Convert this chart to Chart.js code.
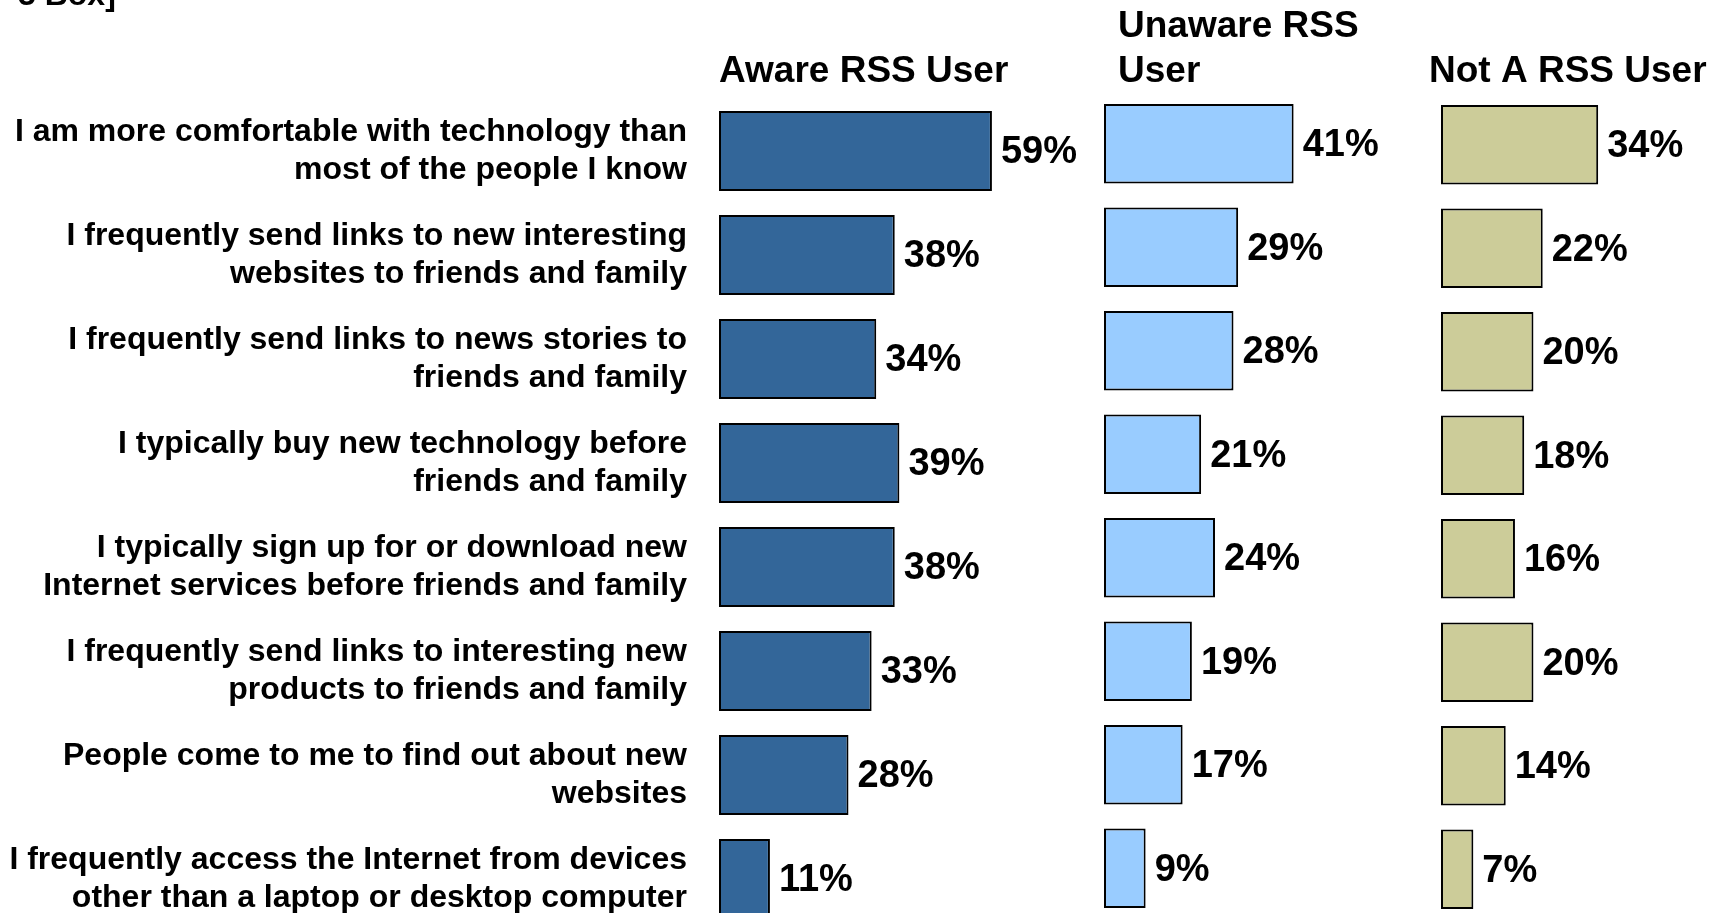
<!DOCTYPE html>
<html>
<head>
<meta charset="utf-8">
<script src="https://cdn.jsdelivr.net/npm/chart.js@4/dist/chart.umd.min.js"></script>
<style>
  html, body { margin:0; padding:0; background:#fff; width:1717px; height:913px; overflow:hidden; }
  .wrap { position:absolute; top:0; }
  canvas { display:block; }
</style>
</head>
<body>
<div class="wrap" id="w1" style="left:0px;width:1089px;height:931px;"><canvas id="c1"></canvas></div>
<div class="wrap" id="w2" style="left:1084px;width:390px;height:920px;"><canvas id="c2"></canvas></div>
<div class="wrap" id="w3" style="left:1421px;width:296px;height:921px;"><canvas id="c3"></canvas></div>
<script>
const categories = [
  ["I am more comfortable with technology than", "most of the people I know"],
  ["I frequently send links to new interesting", "websites to friends and family"],
  ["I frequently send links to news stories to", "friends and family"],
  ["I typically buy new technology before", "friends and family"],
  ["I typically sign up for or download new", "Internet services before friends and family"],
  ["I frequently send links to interesting new", "products to friends and family"],
  ["People come to me to find out about new", "websites"],
  ["I frequently access the Internet from devices", "other than a laptop or desktop computer"]
];
const awareValues   = [59, 38, 34, 39, 38, 33, 28, 11];
const unawareValues = [41, 29, 28, 21, 24, 19, 17, 9];
const notUserValues = [34, 22, 20, 18, 16, 20, 14, 7];
const seriesTitles = [["Aware RSS User"], ["Unaware RSS", "User"], ["Not A RSS User"]];
const topNote = "3 Box]";

const FONT = "'Liberation Sans', Arial, Helvetica, sans-serif";

const valueLabels = {
  id: 'valueLabels',
  afterDatasetsDraw(chart) {
    const ctx = chart.ctx;
    const meta = chart.getDatasetMeta(0);
    const data = chart.data.datasets[0].data;
    ctx.save();
    ctx.font = "bold 38px " + FONT;
    ctx.fillStyle = "#000";
    ctx.textAlign = "left";
    ctx.textBaseline = "middle";
    meta.data.forEach((bar, i) => {
      ctx.fillText(data[i] + "%", bar.x + 9, bar.y + 2);
    });
    ctx.restore();
  }
};

const panelTitle = {
  id: 'panelTitle',
  afterDraw(chart, args, opts) {
    const ctx = chart.ctx;
    ctx.save();
    ctx.font = "bold 37px " + FONT;
    ctx.fillStyle = "#000";
    ctx.textAlign = "left";
    ctx.textBaseline = "alphabetic";
    const lines = opts.lines || [];
    const lastBase = opts.baseline;
    lines.forEach((ln, i) => {
      const y = lastBase - (lines.length - 1 - i) * 45;
      ctx.fillText(ln, chart.chartArea.left + opts.dx, y);
    });
    if (opts.note) {
      ctx.font = "bold 32px " + FONT;
      ctx.fillText(opts.note, opts.noteX, opts.noteY);
    }
    ctx.restore();
  }
};

function makeChart(id, values, color, cfg) {
  return new Chart(document.getElementById(id), {
    type: 'bar',
    data: {
      labels: categories,
      datasets: [{
        data: values,
        backgroundColor: color,
        borderColor: '#000',
        borderWidth: 2,
        borderSkipped: false,
        categoryPercentage: 1.0,
        barPercentage: 0.77
      }]
    },
    options: {
      indexAxis: 'y',
      responsive: true,
      maintainAspectRatio: false,
      animation: false,
      layout: { padding: { top: cfg.top, left: cfg.padLeft, right: 0, bottom: 0 } },
      plugins: {
        legend: { display: false },
        tooltip: { enabled: false },
        title: { display: false },
        panelTitle: cfg.title
      },
      scales: {
        x: { display: false, min: 0, max: cfg.max },
        y: cfg.showLabels ? {
          display: true,
          grid: { display: false, drawTicks: false },
          border: { display: false },
          ticks: {
            padding: 32,
            color: '#000',
            font: { family: FONT, size: 32, weight: 'bold', lineHeight: 1.19 }
          },
          afterFit(scale) {
            scale.width = 719;
            scale.paddingTop = 0;
            scale.paddingBottom = 0;
          }
        } : { display: false }
      }
    },
    plugins: [valueLabels, panelTitle]
  });
}

makeChart('c1', awareValues, '#336699', {
  top: 99, padLeft: 0, max: 80, showLabels: true,
  title: { lines: seriesTitles[0], dx: 0, baseline: 82, note: topNote, noteX: 18, noteY: 5 }
});
makeChart('c2', unawareValues, '#99CCFF', {
  top: 92, padLeft: 20, max: 80, showLabels: false,
  title: { lines: seriesTitles[1], dx: 14, baseline: 82 }
});
makeChart('c3', notUserValues, '#CCCC99', {
  top: 93, padLeft: 20, max: 59.7, showLabels: false,
  title: { lines: seriesTitles[2], dx: -12, baseline: 82 }
});
</script>
</body>
</html>
